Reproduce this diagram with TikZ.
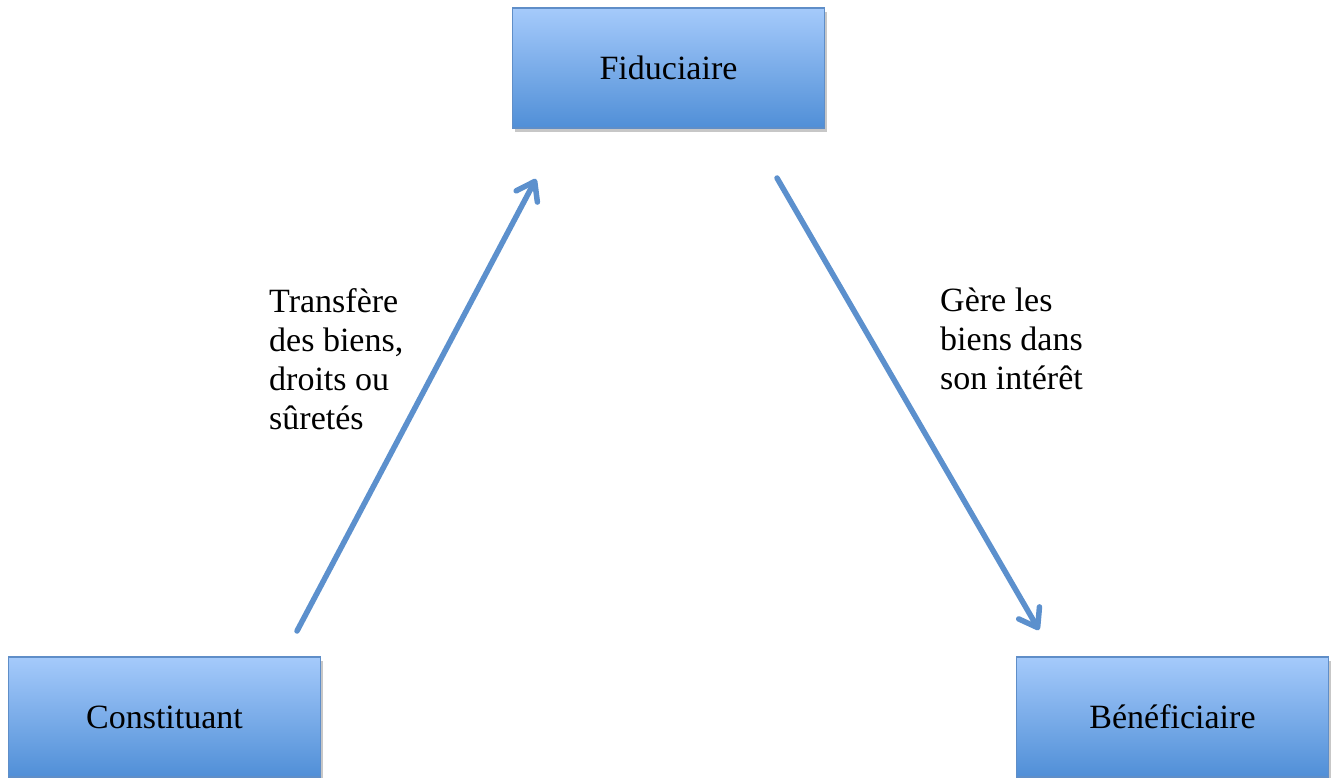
\documentclass[tikz,border=0pt]{standalone}
\usepackage{fontspec}
\setmainfont{Liberation Serif}
\usetikzlibrary{arrows.meta,shadows}
\definecolor{boxtop}{RGB}{165,202,251}
\definecolor{boxbot}{RGB}{80,143,215}
\definecolor{boxline}{RGB}{95,142,200}
\definecolor{arrowcol}{RGB}{92,144,205}
\tikzset{
  rolebox/.style={draw=boxline, line width=1.2pt, top color=boxtop, bottom color=boxbot,
    minimum width=312pt, minimum height=120pt, inner sep=0pt,
    font=\fontsize{34}{40}\selectfont,
    drop shadow={shadow xshift=2pt, shadow yshift=-4pt, opacity=0.22, fill=black}},
  flow/.style={draw=arrowcol, line width=5.5pt, line cap=round,
    -{Straight Barb[length=17pt,width=24pt,line width=5.5pt,round]}},
  note/.style={align=left, inner sep=0pt, anchor=north west,
    font=\fontsize{34}{39}\selectfont}
}
\begin{document}
\begin{tikzpicture}[x=1pt,y=-1pt]
\useasboundingbox (0,0) rectangle (1335,778);
\node[rolebox] (fid) at (668.5,68) {Fiduciaire};
\node[rolebox] (cons) at (164.5,717) {Constituant};
\node[rolebox] (ben) at (1172.5,717) {Bénéficiaire};
\coordinate (a1s) at (297,631);
\coordinate (a1e) at (536,179);
\coordinate (a2s) at (777,178);
\coordinate (a2e) at (1039,630);
\draw[flow] (a1s) -- (a1e);
\draw[flow] (a2s) -- (a2e);
\node[note] (t1) at (269,288) {Transfère\\des biens,\\droits ou\\sûretés};
\node[note] (t2) at (940,288) {Gère les\\biens dans\\son intérêt};
\end{tikzpicture}
\end{document}
